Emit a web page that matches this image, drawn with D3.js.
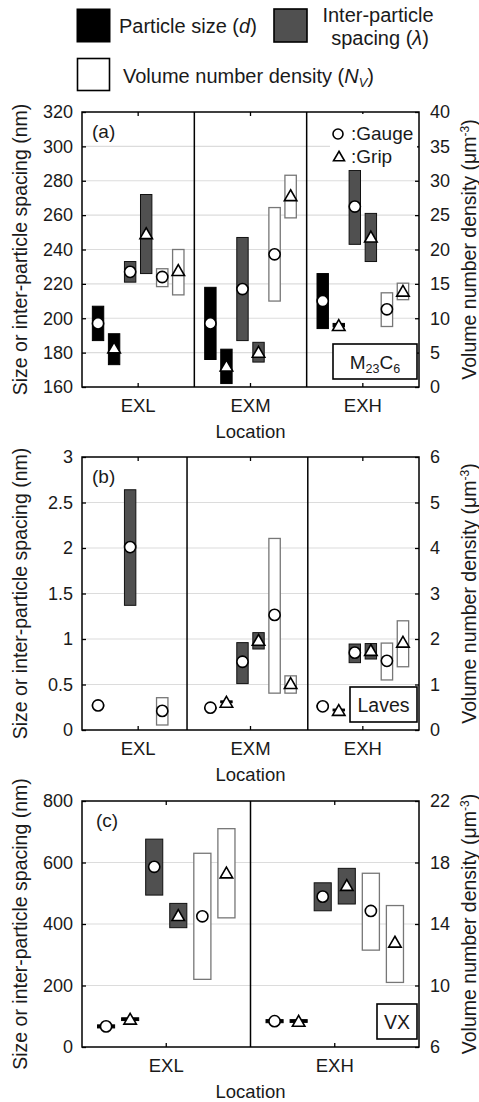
<!DOCTYPE html>
<html>
<head>
<meta charset="utf-8">
<script src="https://cdn.jsdelivr.net/npm/d3@7"></script>
<style>
  body { margin: 0; background: #fff; }
  text { font-family: "Liberation Sans", Arial, sans-serif; fill: #1a1a1a; }
</style>
</head>
<body>
<svg id="chart" width="479" height="1102"></svg>
<script>
// ---- data: [low, high, mean] per location, null = not measured ----
const seriesKeys = ["sizeGauge", "sizeGrip", "spaceGauge", "spaceGrip", "densGauge", "densGrip"];
const catsAB = ["EXL", "EXM", "EXH"];
const catsC = ["EXL", "EXH"];

// (a) M23C6
const m23SizeGauge  = [[187, 207, 197], [176, 218, 197], [194, 226, 210]];
const m23SizeGrip   = [[173, 191, 183], [162, 182, 172.5], [195, 197, 196]];
const m23SpaceGauge = [[221, 233, 227], [187, 247, 217], [243, 286, 265]];
const m23SpaceGrip  = [[226, 272, 249.5], [174.5, 186, 180.5], [233, 261, 247.5]];
const m23DensGauge  = [[14.6, 17.2, 16.0], [12.5, 26.1, 19.3], [8.8, 13.7, 11.3]];
const m23DensGrip   = [[13.4, 20.0, 17.0], [24.6, 30.8, 27.9], [12.7, 15.1, 14.0]];
const m23LeftTicks  = [160, 180, 200, 220, 240, 260, 280, 300, 320];
const m23RightTicks = [0, 5, 10, 15, 20, 25, 30, 35, 40];

// (b) Laves
const lavesSizeGauge  = [[0.26, 0.28, 0.27], [0.24, 0.25, 0.245], [0.25, 0.27, 0.26]];
const lavesSizeGrip   = [null, [0.3, 0.32, 0.31], [0.21, 0.23, 0.22]];
const lavesSpaceGauge = [[1.37, 2.64, 2.01], [0.51, 0.96, 0.75], [0.74, 0.945, 0.85]];
const lavesSpaceGrip  = [null, [0.89, 1.07, 0.99], [0.78, 0.95, 0.88]];
const lavesDensGauge  = [[0.11, 0.71, 0.42], [0.81, 4.21, 2.53], [1.10, 1.91, 1.52]];
const lavesDensGrip   = [null, [0.81, 1.19, 1.03], [1.39, 2.40, 1.94]];
const lavesLeftTicks  = [0, 0.5, 1, 1.5, 2, 2.5, 3];
const lavesRightTicks = [0, 1, 2, 3, 4, 5, 6];

// (c) VX
const vxSizeGauge  = [[62, 72, 67], [79, 89, 84]];
const vxSizeGrip   = [[86, 95, 92], [80, 89, 85]];
const vxSpaceGauge = [[494, 676, 586], [443, 534, 489]];
const vxSpaceGrip  = [[388, 467, 429], [465, 581, 527]];
const vxDensGauge  = [[10.4, 18.6, 14.5], [12.3, 17.3, 14.85]];
const vxDensGrip   = [[14.4, 20.2, 17.35], [10.2, 15.2, 12.85]];
const vxLeftTicks  = [0, 200, 400, 600, 800];
const vxRightTicks = [6, 10, 14, 18, 22];

// series look: which axis, fill, stroke, marker
const seriesStyle = {
  sizeGauge:  { axis: "L", fill: "#000",    stroke: "#000", mark: "circle" },
  sizeGrip:   { axis: "L", fill: "#000",    stroke: "#000", mark: "tri" },
  spaceGauge: { axis: "L", fill: "#505050", stroke: "#111", mark: "circle" },
  spaceGrip:  { axis: "L", fill: "#505050", stroke: "#111", mark: "tri" },
  densGauge:  { axis: "R", fill: "#fff",    stroke: "#777", mark: "circle" },
  densGrip:   { axis: "R", fill: "#fff",    stroke: "#777", mark: "tri" }
};

const svg = d3.select("#chart");
const L = 82, R = 419;

const panels = [
  { tag: "(a)", name: "M23C6", cats: catsAB, top: 112, bottom: 387,
    left: m23LeftTicks, right: m23RightTicks, dividers: [1, 2], boxW: 84, legend: true,
    data: [m23SizeGauge, m23SizeGrip, m23SpaceGauge, m23SpaceGrip, m23DensGauge, m23DensGrip] },
  { tag: "(b)", name: "Laves", cats: catsAB, top: 457, bottom: 730,
    left: lavesLeftTicks, right: lavesRightTicks, dividers: [0.935, 2.01], boxW: 67,
    data: [lavesSizeGauge, lavesSizeGrip, lavesSpaceGauge, lavesSpaceGrip, lavesDensGauge, lavesDensGrip] },
  { tag: "(c)", name: "VX", cats: catsC, top: 801, bottom: 1047,
    left: vxLeftTicks, right: vxRightTicks, dividers: [1], boxW: 40,
    data: [vxSizeGauge, vxSizeGrip, vxSpaceGauge, vxSpaceGrip, vxDensGauge, vxDensGrip] }
];

function triPath(cx, cy, s) {
  const h = s * 0.866;
  return `M${cx},${cy - h / 2}L${cx + s / 2},${cy + h / 2}L${cx - s / 2},${cy + h / 2}Z`;
}

panels.forEach(function (p) {
  const g = svg.append("g");
  const x = d3.scaleBand().domain(p.cats).range([L, R]);
  const xi = d3.scalePoint().domain(seriesKeys).range([0, x.bandwidth()]).padding(1);
  const bw = xi.step() * 0.71;
  const y = d3.scaleLinear().domain(d3.extent(p.left)).range([p.bottom, p.top]);
  const yR = d3.scaleLinear().domain(d3.extent(p.right)).range([p.bottom, p.top]);

  // gridlines
  g.selectAll(".grid").data(p.left.slice(1, -1)).enter().append("line")
    .attr("x1", L).attr("x2", R)
    .attr("y1", d => y(d)).attr("y2", d => y(d))
    .attr("stroke", "#dcdcdc").attr("stroke-width", 1.2);

  // location dividers
  g.selectAll(".div").data(p.dividers).enter().append("line")
    .attr("x1", d => L + d * x.step()).attr("x2", d => L + d * x.step())
    .attr("y1", p.top).attr("y2", p.bottom)
    .attr("stroke", "#000").attr("stroke-width", 1.5);

  // flatten into records
  const recs = [];
  seriesKeys.forEach(function (k, si) {
    p.data[si].forEach(function (v, ci) {
      if (v) recs.push({ key: k, cat: p.cats[ci], lo: v[0], hi: v[1], mid: v[2] });
    });
  });
  const sc = d => seriesStyle[d.key].axis === "L" ? y : yR;
  const cx = d => x(d.cat) + xi(d.key);

  g.selectAll(".bar").data(recs).enter().append("rect")
    .attr("x", d => cx(d) - bw / 2)
    .attr("y", d => sc(d)(d.hi))
    .attr("width", bw)
    .attr("height", d => Math.max(1.5, sc(d)(d.lo) - sc(d)(d.hi)))
    .attr("fill", d => seriesStyle[d.key].fill)
    .attr("stroke", d => seriesStyle[d.key].stroke)
    .attr("stroke-width", d => seriesStyle[d.key].axis === "R" ? 1.3 : 1);

  const marks = g.selectAll(".mk").data(recs).enter();
  marks.filter(d => seriesStyle[d.key].mark === "circle").append("circle")
    .attr("cx", cx).attr("cy", d => sc(d)(d.mid)).attr("r", 5.6)
    .attr("fill", "#fff").attr("stroke", "#000").attr("stroke-width", 1.6);
  marks.filter(d => seriesStyle[d.key].mark === "tri").append("path")
    .attr("d", d => triPath(cx(d), sc(d)(d.mid), 12.5))
    .attr("fill", "#fff").attr("stroke", "#000").attr("stroke-width", 1.6);

  // axes
  const axL = g.append("g").attr("transform", `translate(${L},0)`)
    .call(d3.axisLeft(y).tickValues(p.left).tickSize(-4).tickPadding(9).tickFormat(d => String(d)));
  const axR = g.append("g").attr("transform", `translate(${R},0)`)
    .call(d3.axisRight(yR).tickValues(p.right).tickSize(-4).tickPadding(11).tickFormat(d => String(d)));
  const axB = g.append("g").attr("transform", `translate(0,${p.bottom})`)
    .call(d3.axisBottom(x).tickSize(-4).tickPadding(12));
  const axT = g.append("g").attr("transform", `translate(0,${p.top})`)
    .call(d3.axisTop(x).tickSize(-4).tickFormat(""));
  [axL, axR, axB, axT].forEach(a => {
    a.select(".domain").remove();
    a.selectAll("line").attr("stroke", "#000").attr("stroke-width", 1.3);
    a.selectAll("text").attr("font-size", 18).attr("fill", "#1a1a1a")
      .style("font-family", '"Liberation Sans", Arial, sans-serif');
  });
  axB.selectAll("text").attr("font-size", 18.5);

  // frame
  g.append("rect").attr("x", L).attr("y", p.top).attr("width", R - L).attr("height", p.bottom - p.top)
    .attr("fill", "none").attr("stroke", "#000").attr("stroke-width", 1.5);

  // axis titles
  const mid = (p.top + p.bottom) / 2;
  g.append("text").attr("transform", `translate(27,${mid}) rotate(-90)`)
    .attr("text-anchor", "middle").attr("font-size", 19.5)
    .text("Size or inter-particle spacing (nm)");
  const rt = g.append("text").attr("transform", `translate(476,${mid}) rotate(-90)`)
    .attr("text-anchor", "middle").attr("font-size", 19.5);
  rt.append("tspan").text("Volume number density (\u03bcm");
  rt.append("tspan").attr("dy", -7).attr("font-size", 12).text("-3");
  rt.append("tspan").attr("dy", 7).text(")");
  g.append("text").attr("x", (L + R) / 2).attr("y", p.bottom + 51)
    .attr("text-anchor", "middle").attr("font-size", 18.5).text("Location");

  // panel tag
  g.append("text").attr("x", p.tag === "(c)" ? 96 : 92).attr("y", p.top + 26)
    .attr("font-size", 19).text(p.tag);

  // phase name box
  const bh = 35, bx = 417 - p.boxW, by = p.bottom - 8 - bh;
  g.append("rect").attr("x", bx).attr("y", by).attr("width", p.boxW).attr("height", bh)
    .attr("fill", "#fff").attr("stroke", "#000").attr("stroke-width", 1.6);
  const nt = g.append("text").attr("x", bx + p.boxW / 2).attr("y", by + bh / 2 + 7)
    .attr("text-anchor", "middle").attr("font-size", p.name === "M23C6" ? 19 : 19.5);
  if (p.name === "M23C6") {
    nt.append("tspan").text("M");
    nt.append("tspan").attr("font-size", 12.5).attr("dy", 4).text("23");
    nt.append("tspan").attr("dy", -4).text("C");
    nt.append("tspan").attr("font-size", 12.5).attr("dy", 4).text("6");
  } else {
    nt.text(p.name);
  }

  // gauge / grip key
  if (p.legend) {
    g.append("rect").attr("x", 330).attr("y", 114).attr("width", 87).attr("height", 56).attr("fill", "#fff");
    g.append("circle").attr("cx", 338).attr("cy", 134).attr("r", 5)
      .attr("fill", "#fff").attr("stroke", "#000").attr("stroke-width", 1.6);
    g.append("path").attr("d", triPath(339, 156, 11))
      .attr("fill", "#fff").attr("stroke", "#000").attr("stroke-width", 1.6);
    g.append("text").attr("x", 351).attr("y", 140).attr("font-size", 19).text(":Gauge");
    g.append("text").attr("x", 351).attr("y", 163).attr("font-size", 19).text(":Grip");
  }
});

// ---- top legend ----
const lg = svg.append("g");
lg.append("rect").attr("x", 77).attr("y", 9).attr("width", 33).attr("height", 33)
  .attr("fill", "#000").attr("stroke", "#000");
const t1 = lg.append("text").attr("x", 119).attr("y", 33).attr("font-size", 20);
t1.append("tspan").text("Particle size (");
t1.append("tspan").attr("font-style", "italic").text("d");
t1.append("tspan").text(")");

lg.append("rect").attr("x", 274).attr("y", 9).attr("width", 33).attr("height", 33)
  .attr("fill", "#505050").attr("stroke", "#000").attr("stroke-width", 1.6);
lg.append("text").attr("x", 378).attr("y", 22).attr("text-anchor", "middle")
  .attr("font-size", 20).text("Inter-particle");
const t2 = lg.append("text").attr("x", 380).attr("y", 45).attr("text-anchor", "middle").attr("font-size", 20);
t2.append("tspan").text("spacing (");
t2.append("tspan").attr("font-style", "italic").text("\u03bb");
t2.append("tspan").text(")");

lg.append("rect").attr("x", 77.5).attr("y", 58.5).attr("width", 32).attr("height", 32)
  .attr("fill", "#fff").attr("stroke", "#000").attr("stroke-width", 1.6);
const t3 = lg.append("text").attr("x", 123).attr("y", 83).attr("font-size", 20);
t3.append("tspan").text("Volume number density (");
t3.append("tspan").attr("font-style", "italic").text("N");
t3.append("tspan").attr("font-style", "italic").attr("font-size", 13).attr("dy", 4).text("V");
t3.append("tspan").attr("dy", -4).text(")");
</script>
</body>
</html>
